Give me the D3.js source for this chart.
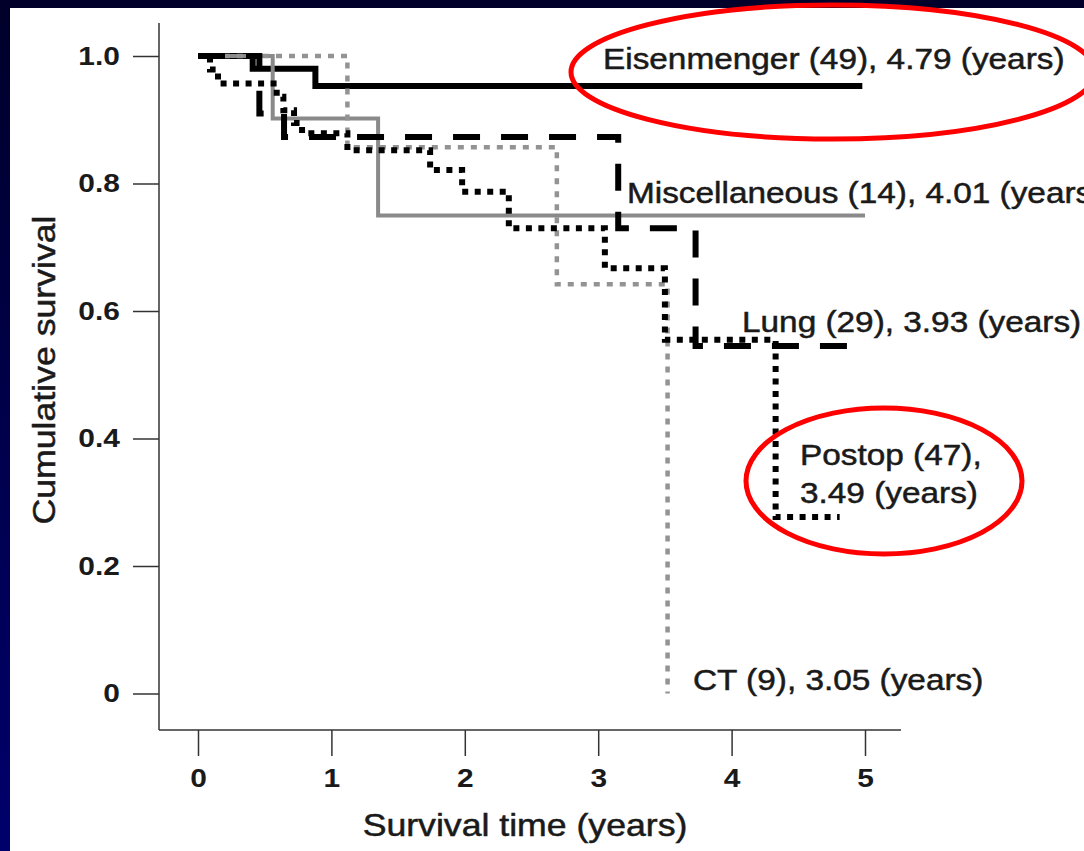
<!DOCTYPE html>
<html>
<head>
<meta charset="utf-8">
<script src="https://cdn.jsdelivr.net/npm/d3@7"></script>
<style>
body { margin: 0; background: #000040; }
svg { display: block; font-family: "Liberation Sans", Arial, sans-serif; }
</style>
</head>
<body>
<div id="chart"></div>
<script>
// groups, patient counts and mean survival (years)
var groups = ["Eisenmenger", "Miscellaneous", "Lung", "Postop", "CT"];
var groupN = [49, 14, 29, 47, 9];
var meanYears = ["4.79", "4.01", "3.93", "3.49", "3.05"];

// Kaplan-Meier steps: time (years) and cumulative survival
var eisTime = [0, 0.41, 0.88, 4.98];
var eisSurv = [1, 0.98, 0.953, 0.953];
var miscTime = [0, 0.56, 1.35, 5.0];
var miscSurv = [1, 0.902, 0.75, 0.75];
var lungTime = [0, 0.46, 0.645, 3.15, 3.73, 5.0];
var lungSurv = [1, 0.91, 0.873, 0.73, 0.545, 0.545];
var postTime = [0, 0.09, 0.15, 0.59, 0.64, 0.72, 0.78, 1.12, 1.74, 1.98, 2.33, 3.05, 3.5, 4.33, 4.81];
var postSurv = [1, 0.979, 0.957, 0.936, 0.915, 0.895, 0.879, 0.852, 0.821, 0.787, 0.73, 0.667, 0.555, 0.277, 0.277];
var ctTime = [0, 1.12, 2.69, 3.52];
var ctSurv = [1, 0.857, 0.642, 0];

var xTicks = [0, 1, 2, 3, 4, 5];
var yTicks = [0, 0.2, 0.4, 0.6, 0.8, 1.0];

var W = 1084, H = 851;
var sx = 1.15; // the original type is a little wide
var ink = "#1a1a1a";

var svg = d3.select("#chart").append("svg").attr("width", W).attr("height", H);

var grad = svg.append("defs").append("linearGradient").attr("id", "bg").attr("x1", 0).attr("y1", 0).attr("x2", 0).attr("y2", 1);
grad.append("stop").attr("offset", "0%").attr("stop-color", "#00002a");
grad.append("stop").attr("offset", "100%").attr("stop-color", "#00006c");
svg.append("rect").attr("width", W).attr("height", H).attr("fill", "url(#bg)");
svg.append("rect").attr("x", 10).attr("y", 8).attr("width", W - 10).attr("height", H - 8).attr("fill", "#fff");

var x = d3.scaleLinear().domain([0, 5]).range([198, 865]);
var y = d3.scaleLinear().domain([0, 1]).range([693.5, 56]);

// axes
var yAxis = svg.append("g").attr("transform", "translate(159,0)").attr("color", "#333")
    .call(d3.axisLeft(y).tickValues(yTicks).tickSize(26).tickPadding(8).tickFormat(function (d) {
        return d === 0 ? "0" : d.toFixed(1);
    }));
yAxis.select(".domain").remove();
yAxis.selectAll("line").attr("stroke-width", 1.5);
yAxis.selectAll("text").attr("font-size", 26).attr("font-weight", "bold").attr("fill", ink)
    .attr("font-family", "Liberation Sans, Arial, sans-serif")
    .attr("transform", "scale(" + sx + ",1)");

var xAxis = svg.append("g").attr("transform", "translate(0,730)").attr("color", "#333")
    .call(d3.axisBottom(x).tickValues(xTicks).tickSize(26).tickPadding(13).tickFormat(d3.format("d")));
xAxis.select(".domain").remove();
xAxis.selectAll("line").attr("stroke-width", 1.5);
xAxis.selectAll("text").attr("font-size", 26).attr("font-weight", "bold").attr("fill", ink)
    .attr("font-family", "Liberation Sans, Arial, sans-serif")
    .attr("transform", "scale(" + sx + ",1)");

svg.append("line").attr("x1", 159).attr("x2", 159).attr("y1", 23).attr("y2", 730).attr("stroke", "#333").attr("stroke-width", 1.5);
svg.append("line").attr("x1", 159).attr("x2", 901).attr("y1", 730).attr("y2", 730).attr("stroke", "#333").attr("stroke-width", 1.5);

svg.append("text").attr("transform", "translate(525,836) scale(" + sx + ",1)").attr("text-anchor", "middle")
    .attr("font-size", 31).attr("fill", ink).attr("stroke", ink).attr("stroke-width", 0.5)
    .text("Survival time (years)");
svg.append("text").attr("transform", "translate(55,370) rotate(-90) scale(" + sx + ",1)").attr("text-anchor", "middle")
    .attr("font-size", 31).attr("fill", ink).attr("stroke", ink).attr("stroke-width", 0.5)
    .text("Cumulative survival");

// curves
var line = d3.line().x(function (d) {
    return x(d[0]);
}).y(function (d) {
    return y(d[1]);
}).curve(d3.curveStepAfter);

function drawCurve(times, surv, color, width, dash) {
    var pts = times.map(function (t, i) {
        return [t, surv[i]];
    });
    svg.append("path").datum(pts).attr("d", line).attr("fill", "none")
        .attr("stroke", color).attr("stroke-width", width)
        .attr("stroke-dasharray", dash).attr("stroke-linecap", "butt");
}

drawCurve(eisTime, eisSurv, "#000", 6, null);
drawCurve(miscTime, miscSurv, "#8a8a8a", 4, null);
drawCurve(ctTime, ctSurv, "#939393", 4.5, "6,7");
drawCurve(lungTime, lungSurv, "#000", 6, "27,21");
drawCurve(postTime, postSurv, "#000", 6, "6,6.5");

// labels
function label(txt, px, py) {
    svg.append("text").attr("transform", "translate(" + px + "," + py + ") scale(" + sx + ",1)")
        .attr("font-size", 29).attr("fill", ink).attr("stroke", ink).attr("stroke-width", 0.5).text(txt);
}
function fullLabel(i) {
    return groups[i] + " (" + groupN[i] + "), " + meanYears[i] + " (years)";
}
label(fullLabel(0), 603, 69);
label(fullLabel(1), 627, 203);
label(fullLabel(2), 742, 332);
label(groups[3] + " (" + groupN[3] + "),", 800, 465);
label(meanYears[3] + " (years)", 800, 503);
label(fullLabel(4), 693, 690);

// red highlight rings
svg.append("ellipse").attr("cx", 833).attr("cy", 72).attr("rx", 262).attr("ry", 67)
    .attr("fill", "none").attr("stroke", "#f00").attr("stroke-width", 5);
svg.append("ellipse").attr("cx", 884).attr("cy", 481).attr("rx", 138).attr("ry", 73)
    .attr("fill", "none").attr("stroke", "#f00").attr("stroke-width", 5);
</script>
</body>
</html>
